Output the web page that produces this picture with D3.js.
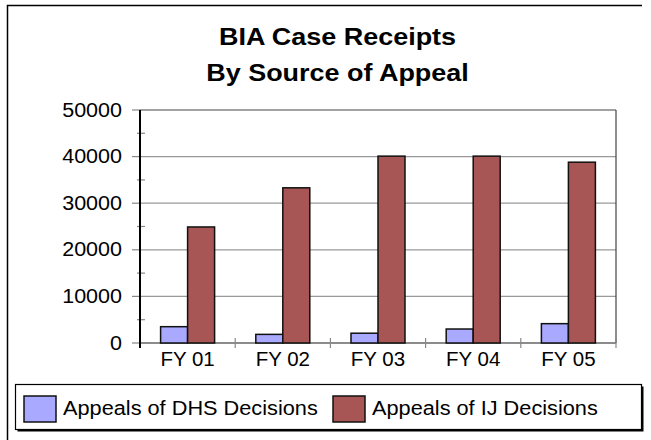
<!DOCTYPE html>
<html>
<head>
<meta charset="utf-8">
<script src="https://cdn.jsdelivr.net/npm/d3@7"></script>
<style>
  body { margin: 0; background: #fff; }
  svg { display: block; font-family: "Liberation Sans", Arial, sans-serif; }
</style>
</head>
<body>
<svg id="chart" width="651" height="440"></svg>
<script>
// data
const years = ["FY 01", "FY 02", "FY 03", "FY 04", "FY 05"];
const seriesNames = ["Appeals of DHS Decisions", "Appeals of IJ Decisions"];
const dhsValues = [3500, 1850, 2100, 3000, 4150];
const ijValues = [24900, 33300, 40100, 40100, 38800];
const yTicks = [0, 10000, 20000, 30000, 40000, 50000];
const colors = ["#a9a9ff", "#a85555"];

const svg = d3.select("#chart");

// outer frame (only top and left visible)
svg.append("path")
    .attr("d", "M7.5,440 V5.5 H642")
    .attr("fill", "none")
    .attr("stroke", "#000")
    .attr("stroke-width", 1.5);

// title (original is a bit stretched sideways)
const title = svg.append("g")
    .attr("transform", "translate(337.5,0) scale(1.1,1)")
    .append("text")
    .attr("text-anchor", "middle")
    .attr("font-weight", "bold")
    .attr("font-size", 24.5)
    .attr("fill", "#000");
title.append("tspan").attr("x", 0).attr("y", 45).text("BIA Case Receipts");
title.append("tspan").attr("x", 0).attr("y", 81).text("By Source of Appeal");

// plot area
const plotLeft = 140, plotRight = 616, plotTop = 110, plotBottom = 343;

const x0 = d3.scaleBand().domain(years).range([plotLeft, plotRight]);
const x1 = d3.scaleBand().domain(seriesNames).range([0, x0.bandwidth()]).paddingOuter(0.763);
const y = d3.scaleLinear().domain([0, 50000]).range([plotBottom, plotTop]);

// gridlines
svg.append("g")
    .selectAll("line")
    .data(yTicks.filter(d => d > 0))
    .join("line")
    .attr("x1", plotLeft).attr("x2", plotRight)
    .attr("y1", d => y(d)).attr("y2", d => y(d))
    .attr("stroke", d => d === 50000 ? "#444" : "#999")
    .attr("stroke-width", 1.2);

// right border
svg.append("line")
    .attr("x1", plotRight).attr("x2", plotRight)
    .attr("y1", plotTop).attr("y2", plotBottom)
    .attr("stroke", "#444")
    .attr("stroke-width", 1.2);

// x axis line + ticks
svg.append("line")
    .attr("x1", plotLeft).attr("x2", plotRight)
    .attr("y1", plotBottom).attr("y2", plotBottom)
    .attr("stroke", "#666")
    .attr("stroke-width", 1.5);
svg.append("g")
    .selectAll("line")
    .data(years.map(d => x0(d)).concat([plotRight]))
    .join("line")
    .attr("x1", d => d).attr("x2", d => d)
    .attr("y1", plotBottom - 5).attr("y2", plotBottom + 5)
    .attr("stroke", "#888")
    .attr("stroke-width", 1.2);

// bars
const rows = years.map((yr, i) => ({ year: yr, values: [dhsValues[i], ijValues[i]] }));
svg.append("g")
    .selectAll("g")
    .data(rows)
    .join("g")
    .attr("transform", d => `translate(${x0(d.year)},0)`)
    .selectAll("rect")
    .data(d => d.values.map((v, j) => ({ name: seriesNames[j], value: v, color: colors[j] })))
    .join("rect")
    .attr("x", d => x1(d.name))
    .attr("width", x1.bandwidth())
    .attr("y", d => y(d.value))
    .attr("height", d => plotBottom - y(d.value))
    .attr("fill", d => d.color)
    .attr("stroke", "#111")
    .attr("stroke-width", 1.5);

// y axis: major ticks outside, minor ticks crossing
svg.append("g")
    .selectAll("line")
    .data(yTicks)
    .join("line")
    .attr("x1", plotLeft - 8).attr("x2", plotLeft)
    .attr("y1", d => y(d)).attr("y2", d => y(d))
    .attr("stroke", "#888")
    .attr("stroke-width", 1.2);
svg.append("g")
    .selectAll("line")
    .data(yTicks.slice(0, -1).map(d => d + 5000))
    .join("line")
    .attr("x1", plotLeft - 3).attr("x2", plotLeft + 5)
    .attr("y1", d => y(d)).attr("y2", d => y(d))
    .attr("stroke", "#888")
    .attr("stroke-width", 1.2);
svg.append("line")
    .attr("x1", plotLeft).attr("x2", plotLeft)
    .attr("y1", plotTop).attr("y2", plotBottom + 5)
    .attr("stroke", "#000")
    .attr("stroke-width", 2);

// y tick labels
svg.append("g")
    .selectAll("text")
    .data(yTicks)
    .join("text")
    .attr("transform", d => `translate(122,${y(d)}) scale(1.05,1)`)
    .attr("dy", "0.32em")
    .attr("text-anchor", "end")
    .attr("font-size", 20.5)
    .attr("fill", "#000")
    .text(d => d);

// x labels
svg.append("g")
    .selectAll("text")
    .data(years)
    .join("text")
    .attr("x", d => x0(d) + x0.bandwidth() / 2)
    .attr("y", 366)
    .attr("text-anchor", "middle")
    .attr("font-size", 20.5)
    .attr("fill", "#000")
    .text(d => d);

// legend box with shadow
svg.append("rect")
    .attr("x", 17.5).attr("y", 386.5)
    .attr("width", 626).attr("height", 45)
    .attr("fill", "#000");
svg.append("rect")
    .attr("x", 15.5).attr("y", 384.5)
    .attr("width", 626).attr("height", 45)
    .attr("fill", "#fff")
    .attr("stroke", "#000")
    .attr("stroke-width", 1.2);

const legendX = [24, 333];
const legend = svg.append("g")
    .selectAll("g")
    .data(seriesNames)
    .join("g")
    .attr("transform", (d, i) => `translate(${legendX[i]},396)`);
legend.append("rect")
    .attr("width", 32).attr("height", 26)
    .attr("fill", (d, i) => colors[i])
    .attr("stroke", "#111")
    .attr("stroke-width", 1.5);
legend.append("text")
    .attr("transform", "translate(39,18.5) scale(1.035,1)")
    .attr("font-size", 21)
    .attr("fill", "#000")
    .text(d => d);
</script>
</body>
</html>
